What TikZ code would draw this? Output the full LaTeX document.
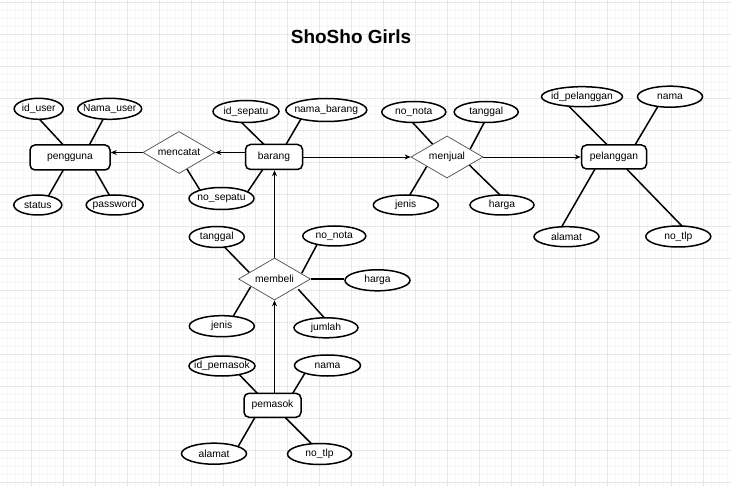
\documentclass[tikz,border=0pt]{standalone}
\usepackage{fontspec}
\setmainfont{Liberation Sans}
\usetikzlibrary{shapes.geometric,arrows.meta}
\pgfdeclarelayer{background}
\pgfsetlayers{background,main}
\definecolor{gridminor}{HTML}{F6F6F6}
\definecolor{gridmajor}{HTML}{E6E6E6}
\newcommand\erfont{\fontsize{10.3}{12}\selectfont}
\tikzset{
  ent/.style 2 args={draw, line width=1.5pt, rounded corners=5pt, fill=white,
    minimum width=#1pt, minimum height=#2pt, inner sep=0pt, font=\erfont},
  attr/.style 2 args={ellipse, draw, line width=1.5pt, fill=white,
    minimum width=#1pt, minimum height=#2pt, inner sep=0pt, font=\erfont},
  rel/.style={diamond, draw=black!70, line width=0.7pt, fill=white,
    minimum width=72pt, minimum height=42pt, inner sep=0pt, font=\erfont},
  link/.style={line width=1.5pt},
  flow/.style={line width=0.8pt, -{Stealth[length=6pt,width=5pt]}},
  gridline/.style={line width=0.6pt}
}
\begin{document}
\begin{tikzpicture}[x=1pt,y=-1pt]
\useasboundingbox (0,0) rectangle (731,486);
\begin{pgfonlayer}{background}
  \fill[white] (0,0) rectangle (731,486);
  \foreach \gx in {7,15,...,727} \draw[gridline,gridminor] (\gx,0) -- (\gx,486);
  \foreach \gy in {2,10,...,482} \draw[gridline,gridminor] (0,\gy) -- (731,\gy);
  \foreach \gx in {31,63,...,703} \draw[gridline,gridmajor] (\gx,0) -- (\gx,486);
  \foreach \gy in {2,34,...,482} \draw[gridline,gridmajor] (0,\gy) -- (731,\gy);
\end{pgfonlayer}

\node[font=\bfseries\fontsize{19}{22}\selectfont] (title) at (351,36.5) {ShoSho Girls};

% entities
\node[ent={80}{25}] (pengguna) at (70,157.5) {pengguna};
\node[ent={57}{25}] (barang) at (274,157) {barang};
\node[ent={65}{24}] (pelanggan) at (614,157) {pelanggan};
\node[ent={57}{24}] (pemasok) at (272.5,405.3) {pemasok};

% relationships
\node[rel] (mencatat) at (179,152.5) {\makebox[0pt]{mencatat}};
\node[rel] (menjual) at (447,157) {\makebox[0pt]{menjual}};
\node[rel] (membeli) at (274.5,279) {\makebox[0pt]{membeli}};

% attributes
\node[attr={49}{21}] (p_id) at (38.7,108.8) {\makebox[0pt]{id\_user}};
\node[attr={64}{21}] (p_nama) at (109.7,108.8) {\makebox[0pt]{Nama\_user}};
\node[attr={48}{20}] (p_status) at (37.8,205) {\makebox[0pt]{status}};
\node[attr={57}{20}] (p_pass) at (114.7,205) {\makebox[0pt]{password}};
\node[attr={65}{22}] (nosepatu) at (221.5,198.5) {\makebox[0pt]{no\_sepatu}};
\node[attr={66}{22}] (b_id) at (246,111.5) {\makebox[0pt]{id\_sepatu}};
\node[attr={81}{23}] (b_nama) at (326.3,110) {\makebox[0pt]{nama\_barang}};
\node[attr={64}{21}] (j_nota) at (413.8,112) {\makebox[0pt]{no\_nota}};
\node[attr={64}{21}] (j_tgl) at (486.2,112) {\makebox[0pt]{tanggal}};
\node[attr={65}{20}] (j_jenis) at (405.8,205) {\makebox[0pt]{jenis}};
\node[attr={64}{20}] (j_harga) at (502,205) {\makebox[0pt]{harga}};
\node[attr={81}{20}] (c_id) at (582,96.7) {\makebox[0pt]{id\_pelanggan}};
\node[attr={65}{21}] (c_nama) at (670,96.7) {\makebox[0pt]{nama}};
\node[attr={65}{20}] (c_alamat) at (566.5,236.7) {\makebox[0pt]{alamat}};
\node[attr={65}{21}] (c_tlp) at (678.3,236.5) {\makebox[0pt]{no\_tlp}};
\node[attr={55}{21}] (m_tgl) at (216.8,237) {\makebox[0pt]{tanggal}};
\node[attr={63}{20}] (m_nota) at (334.3,236) {\makebox[0pt]{no\_nota}};
\node[attr={65}{21}] (m_harga) at (377.5,280.3) {\makebox[0pt]{harga}};
\node[attr={65}{21}] (m_jenis) at (221.8,326.2) {\makebox[0pt]{jenis}};
\node[attr={64}{20}] (m_jumlah) at (326,327.8) {\makebox[0pt]{jumlah}};
\node[attr={66}{20}] (s_id) at (222,366) {\makebox[0pt]{id\_pemasok}};
\node[attr={66}{21}] (s_nama) at (327.5,365.5) {\makebox[0pt]{nama}};
\node[attr={65}{21}] (s_alamat) at (214,453.7) {\makebox[0pt]{alamat}};
\node[attr={64}{21}] (s_tlp) at (319.5,454) {\makebox[0pt]{no\_tlp}};

\begin{pgfonlayer}{background}
  % attribute links
  \draw[link] ([shift={(-0.2,9.4)}]p_id.center) -- ([shift={(-6.7,-12.5)}]pengguna.center);
  \draw[link] ([shift={(-5.5,8.4)}]p_nama.center) -- ([shift={(19.3,-12.5)}]pengguna.center);
  \draw[link] ([shift={(-6.7,12.5)}]pengguna.center) -- ([shift={(10.2,-8.2)}]p_status.center);
  \draw[link] ([shift={(25,12.5)}]pengguna.center) -- ([shift={(-4.8,-8.9)}]p_pass.center);
  \draw[link] ([shift={(7.9,16.4)}]mencatat.center) -- ([shift={(-20.1,-6.1)}]nosepatu.center);
  \draw[link] ([shift={(-11.3,12.5)}]barang.center) -- ([shift={(24.7,-4.5)}]nosepatu.center);
  \draw[link] ([shift={(-6.5,9)}]b_id.center) -- ([shift={(-10,-12.5)}]barang.center);
  \draw[link] ([shift={(-22.8,4.6)}]b_nama.center) -- ([shift={(12,-12.5)}]barang.center);
  \draw[link] ([shift={(-2.3,9.3)}]j_nota.center) -- ([shift={(-14.3,-12.7)}]menjual.center);
  \draw[link] ([shift={(-0.9,8.5)}]j_tgl.center) -- ([shift={(23,-7.6)}]menjual.center);
  \draw[link] ([shift={(-20.3,9.5)}]menjual.center) -- ([shift={(2.9,-8.3)}]j_jenis.center);
  \draw[link] ([shift={(22.3,8)}]menjual.center) -- ([shift={(-1.2,-9.3)}]j_harga.center);
  \draw[link] ([shift={(-15,7.6)}]c_id.center) -- ([shift={(-6.7,-12)}]pelanggan.center);
  \draw[link] ([shift={(-11.1,8)}]c_nama.center) -- ([shift={(21,-12)}]pelanggan.center);
  \draw[link] ([shift={(-19,12)}]pelanggan.center) -- ([shift={(-5.4,-8.9)}]c_alamat.center);
  \draw[link] ([shift={(12.7,12)}]pelanggan.center) -- ([shift={(5.4,-8.7)}]c_tlp.center);
  \draw[link] ([shift={(6.5,8.8)}]m_tgl.center) -- ([shift={(-25.2,-6.5)}]membeli.center);
  \draw[link] ([shift={(-16.6,7.3)}]m_nota.center) -- ([shift={(27.2,-5.7)}]membeli.center);
  \draw[link] (membeli.east) -- (membeli.east -| m_harga.west);
  \draw[link] ([shift={(-23.8,7.7)}]membeli.center) -- ([shift={(10.8,-8.9)}]m_jenis.center);
  \draw[link] ([shift={(23.8,10.3)}]membeli.center) -- ([shift={(-0.2,-8.4)}]m_jumlah.center);
  \draw[link] ([shift={(16.2,7.5)}]s_id.center) -- ([shift={(-15.2,-12)}]pemasok.center);
  \draw[link] ([shift={(-21.8,6.4)}]s_nama.center) -- ([shift={(20.2,-12)}]pemasok.center);
  \draw[link] ([shift={(-17.5,12)}]pemasok.center) -- ([shift={(23.75,-6.5)}]s_alamat.center);
  \draw[link] ([shift={(12.5,12)}]pemasok.center) -- ([shift={(-7.7,-9.9)}]s_tlp.center);
  % relationship arrows
  \draw[flow] (mencatat.west) -- (mencatat.west -| pengguna.east);
  \draw[flow] (barang.west |- mencatat.east) -- (mencatat.east);
  \draw[flow] (barang.east) -- (menjual.west);
  \draw[flow] (menjual.east) -- (pelanggan.west);
  \draw[flow] (membeli.north) -- (membeli.north |- barang.south);
  \draw[flow] (membeli.south |- pemasok.north) -- (membeli.south);
\end{pgfonlayer}
\end{tikzpicture}
\end{document}
